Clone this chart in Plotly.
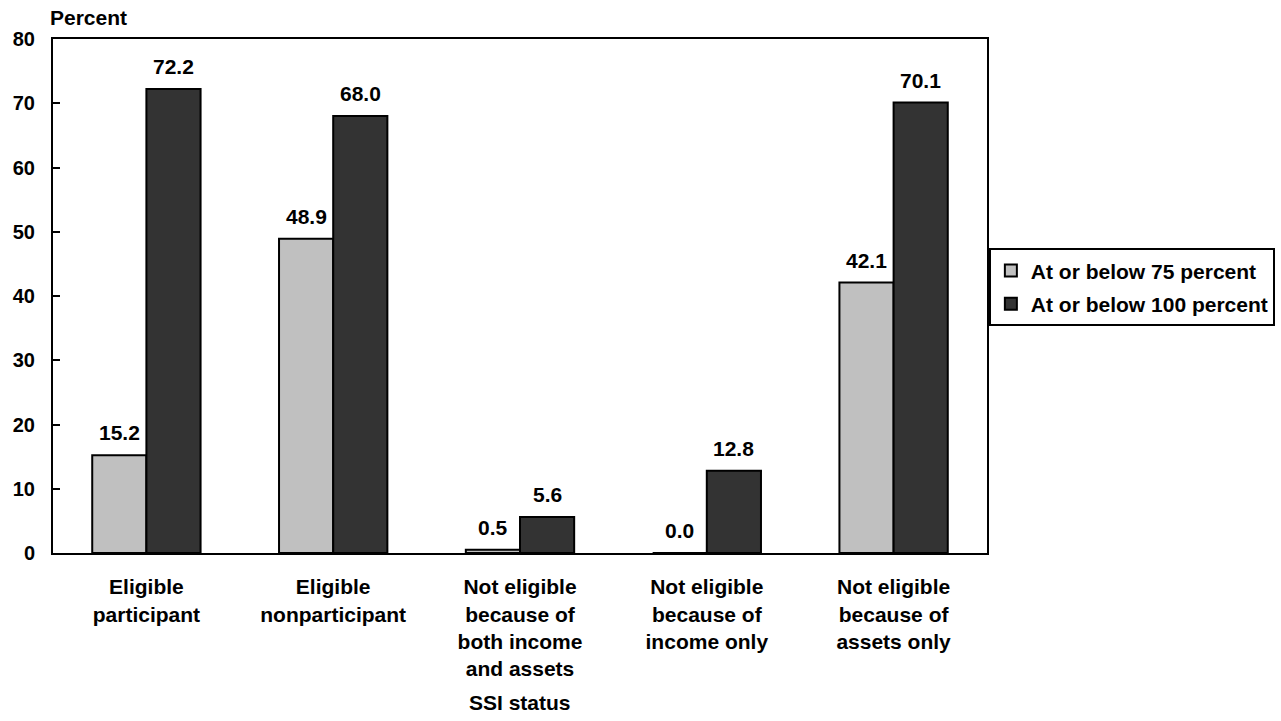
import plotly.graph_objects as go

categories = [
    "Eligible<br>participant",
    "Eligible<br>nonparticipant",
    "Not eligible<br>because of<br>both income<br>and assets",
    "Not eligible<br>because of<br>income only",
    "Not eligible<br>because of<br>assets only",
]
series_names = ["At or below 75 percent", "At or below 100 percent"]
below_75 = [15.2, 48.9, 0.5, 0.0, 42.1]
below_100 = [72.2, 68.0, 5.6, 12.8, 70.1]
y_ticks = [0, 10, 20, 30, 40, 50, 60, 70, 80]

FONT = "Liberation Sans, Arial, Helvetica, sans-serif"
colors = ["#c0c0c0", "#333333"]

fig = go.Figure()
for name, vals, col in zip(series_names, [below_75, below_100], colors):
    fig.add_trace(go.Bar(
        x=categories, y=vals, name=name, legendgroup=name,
        marker=dict(color=col, line=dict(color="black", width=2)),
    ))

# value labels above each bar (left bar / right bar of each group)
annotations = []
for k, vals in enumerate([below_75, below_100]):
    shift = -27 if k == 0 else 27
    for c, v in zip(categories, vals):
        annotations.append(dict(
            x=c, y=v, xref="x", yref="y", text=f"<b>{v:.1f}</b>",
            showarrow=False, yanchor="bottom", xshift=shift, yshift=9,
            font=dict(family=FONT, size=21, color="black"),
        ))

annotations.append(dict(
    xref="paper", yref="paper", x=0, y=1.041, xanchor="left", yanchor="middle",
    xshift=-5, text="<b>Percent</b>", showarrow=False,
    font=dict(family=FONT, size=21, color="black"),
))
annotations.append(dict(
    xref="paper", yref="paper", x=0.5, y=-0.290, xanchor="center", yanchor="middle",
    text="<b>SSI status</b>", showarrow=False,
    font=dict(family=FONT, size=21, color="black"),
))

fig.update_layout(
    width=1281, height=721,
    margin=dict(l=53, r=294, t=39, b=168, autoexpand=False),
    paper_bgcolor="white", plot_bgcolor="white",
    barmode="group", bargap=0.42, bargroupgap=0,
    font=dict(family=FONT, color="black"),
    showlegend=True,
    legend=dict(
        x=1.002, y=0.517, xanchor="left", yanchor="middle",
        bordercolor="black", borderwidth=2,
        font=dict(family=FONT, size=21, color="black", weight="bold"),
        itemwidth=30, traceorder="grouped", tracegroupgap=3,
    ),
    annotations=annotations,
)
fig.update_xaxes(
    showline=True, linecolor="black", linewidth=2, mirror=True,
    ticks="", showgrid=False,
    tickfont=dict(family=FONT, size=21, color="black", weight="bold"),
    ticklabelstandoff=14,
)
fig.update_yaxes(
    range=[0, 80], tickvals=y_ticks,
    showline=True, linecolor="black", linewidth=2, mirror=True,
    ticks="inside", ticklen=7, tickwidth=2, tickcolor="black",
    showgrid=False, zeroline=False,
    tickfont=dict(family=FONT, size=20, color="black", weight="bold"),
    ticklabelstandoff=12,
)

fig.write_html("out.html")
